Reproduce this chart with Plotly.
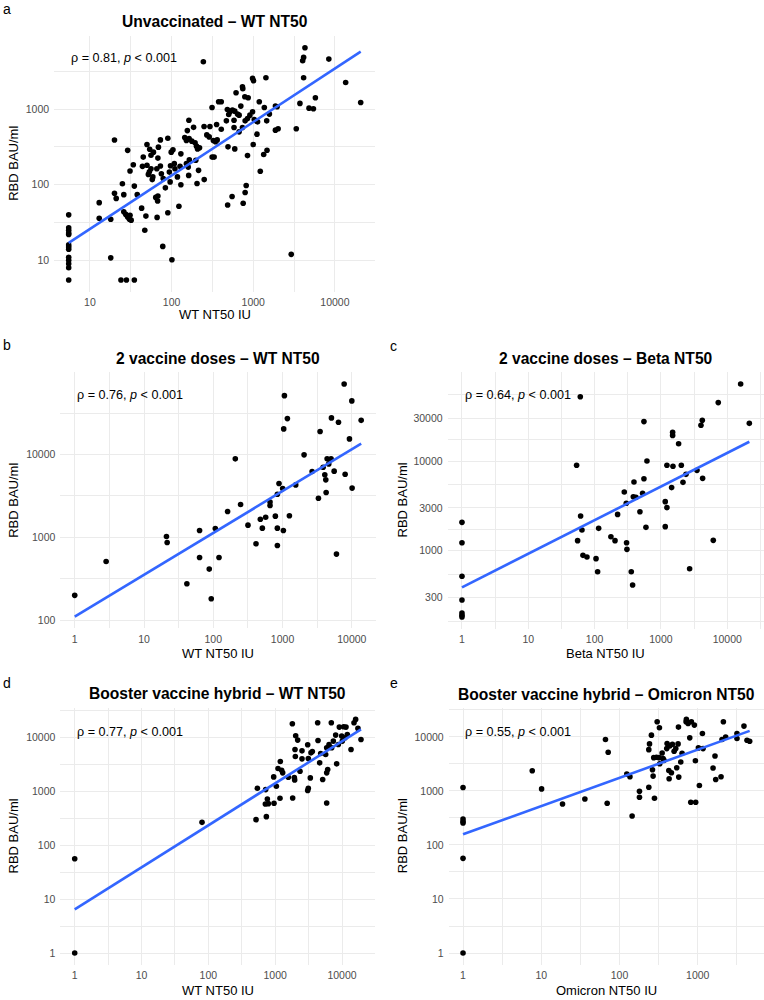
import numpy as np
import plotly.graph_objects as go

W, H = 764, 1000
FONT = "Liberation Sans, Arial, Helvetica, sans-serif"

# ---------------- data ----------------
# Panel a: Unvaccinated - WT NT50
a_x = [5.5] * 13 + [24, 28, 35,
       13, 13, 18, 18, 20, 20, 21, 25, 26,
       26, 27.5, 29, 30.5, 31, 32,
       29, 31, 34, 35, 38,
       43, 44, 45, 47, 48.5, 50, 50, 52, 53.5, 54, 56, 56, 58, 59, 60, 64, 66, 67.5, 68, 69,
       66.5, 68, 73, 73, 75, 78, 79, 84, 90, 90, 94, 96, 97, 99, 104, 101, 108, 110, 118, 123,
       127, 130, 130,
       145, 152, 164, 156, 163, 152, 160, 165, 162, 186, 177, 194, 202, 208, 220, 214, 205,
       251, 245, 250, 270, 295, 289, 313, 314, 332, 198,
       325, 345, 362,
       4300, 4140, 4030, 8430, 4140, 13550, 982, 1010, 1430, 738, 745, 616, 789, 867, 377,
       406, 1186, 705, 1367, 1870, 1960, 3730, 5770, 4820, 5460, 20700, 482, 520, 556, 594,
       641, 672, 501, 982, 910, 1577, 356, 469, 582, 796, 851, 1029, 1079, 1130, 1462, 406,
       582, 672, 738, 1110, 1870, 2018, 3365, 491, 594, 1000, 851, 1475, 1343, 1220, 820,
       796, 753, 551, 486, 2920]
a_y = [40, 27, 25, 23, 22, 16, 15, 14, 11, 10, 9, 8, 5.5] + [5.5, 5.5, 5.5,
       58, 36, 35, 10.8, 390, 77, 66, 103, 74,
       44, 40.5, 37.5, 35, 39.5, 34,
       285, 152, 184, 96, 74,
       49, 175, 232, 25, 38.5, 340, 181, 137, 148, 295, 246, 163, 117, 127, 270, 68, 163, 61, 225, 314,
       37, 71, 392, 177, 140, 15.3, 121, 91, 412, 42.7, 147, 109, 178, 270, 290, 10.2, 190, 163, 127, 52,
       175, 256, 100,
       420, 384, 409, 520, 714, 190, 171, 214, 133, 574, 377, 358, 324, 298, 308, 155, 104,
       117, 4230, 590, 456, 590, 429, 1052, 232, 232, 211,
       385, 370, 392,
       6490, 4830, 4370, 4590, 2600, 2250, 2550, 2370, 2600, 1980, 1860, 1645, 1456, 1412, 1250,
       1250, 1250, 1096, 1052, 1096, 1074, 1190, 1413, 1030, 1010, 1224, 991, 923, 970, 941,
       859, 832, 849, 923, 832, 859, 627, 700, 714, 700, 752, 730, 700, 679, 700, 543,
       571, 501, 571, 467, 527, 550, 550, 317, 298, 340, 243, 286, 251, 151, 97.5,
       79, 57, 70, 54, 12]

# Panel b: 2 vaccine doses - WT NT50
b_x = [1, 2.84, 21.1, 21.6, 41.6, 63.4, 63.4, 87.5, 93.5, 107, 121, 161, 208, 248, 317,
       414, 478, 511, 571, 660, 660, 788, 842, 842, 889, 842, 1005, 1028, 1064, 1040,
       1175, 1256, 1550, 2046, 2672, 3298, 3485, 3853, 4074, 4210, 4260, 4400, 4650, 5020,
       5080, 5560, 6000, 6420, 7750, 8010, 9250, 10000, 10100, 13650]
b_y = [199, 511, 1023, 866, 275, 1208, 571, 413, 181, 1278, 571, 2050, 8870, 2490, 1403,
       836, 1655, 1291, 1751, 2663, 2421, 1802, 1291, 797, 4468, 3319, 3890, 1208, 51500, 20400,
       27200, 1820, 4300, 9910, 6240, 2970, 18970, 7030, 5690, 4950, 3480, 8870, 7710, 8870,
       27700, 6300, 627, 24550, 71300, 5790, 15460, 44500, 3930, 25900]

# Panel c: 2 vaccine doses - Beta NT50
c_x = [1, 1, 1, 1, 1, 1, 1, 53.5, 55.4, 60.8, 61.5, 64.4, 66.7, 76.6, 105, 111, 115, 176,
       203, 222, 280, 300, 303, 307, 357, 374, 383, 392, 420, 482, 529, 554, 554, 594, 615,
       1161, 1161, 1230, 1230, 1448, 1500, 1500, 1517, 1846, 2027, 2148, 2384, 2705, 3491,
       4010, 4200, 4250, 6150, 7310, 15900, 21500]
c_y = [2070, 1228, 518, 282, 202, 190, 182, 8960, 1294, 52100, 2440, 1700, 887, 850, 815,
       583, 1774, 1432, 1294, 2540, 4510, 3375, 1228, 1035, 583, 414, 4000, 5830, 3940, 2720,
       4360, 6350, 27500, 1820, 10000, 3520, 1853, 3020, 8960, 5050, 19300, 20900, 8730,
       15600, 8960, 5780, 7100, 630, 7870, 25000, 28400, 6410, 1304, 44800, 72300, 26300]

# Panel d: Booster vaccine hybrid - WT NT50
d_x = [1, 1, 80.4, 517, 541, 738, 721, 713, 764, 790, 961, 950, 1041, 1103, 1194, 1181,
       1250, 1295, 1575, 1807, 1828, 1935, 1958, 1981, 2004, 2028, 2172, 2354, 2520, 2520,
       3066, 3133, 3066, 3133, 3357, 3436, 3597, 4325, 4375, 4634, 4797, 5140, 5700, 5900,
       5900, 6110, 5900, 6400, 6920, 7010, 7420, 8040, 8320, 8810, 9120, 9890, 10120, 10600,
       11090, 11480, 12020, 13650, 15130, 16000, 17340, 19240]
d_y = [1, 56.5, 268, 301, 1153, 342, 1089, 589, 730, 597, 606, 1876, 1257, 2684, 3621, 752,
       2500, 2228, 1849, 18240, 762, 1823, 1650, 6060, 4490, 10900, 9050, 2390, 5720, 4060,
       1046, 1153, 7410, 4120, 1798, 5250, 5560, 19040, 8920, 3420, 5100, 1675, 4890, 6510,
       2230, 2570, 615, 7520, 19040, 6510, 8670, 11220, 3280, 7520, 15800, 10740, 8670, 16030,
       10000, 15800, 11530, 6060, 19040, 21980, 14930, 9310]

# Panel e: Booster vaccine hybrid - Omicron NT50
e_x = [1, 1, 1, 1, 1, 1, 7.67, 10.1, 18.7, 36.1, 66.2, 71.7, 69.6, 124, 136, 145, 180, 180,
       237, 237, 242, 256, 264, 269, 274, 280, 303, 297, 321, 324, 327, 351, 361, 371, 402,
       406, 427, 431, 439, 461, 475, 499, 524, 539, 561, 567, 572, 607, 631, 710, 716, 753,
       791, 815, 830, 906, 934, 942, 1020, 1050, 1148, 1170, 1570, 1663, 1698, 1986, 2045,
       2128, 2277, 3175, 3175, 3900, 4266, 4613]
e_y = [1, 56.5, 1153, 301, 272, 255, 2360, 1089, 573, 709, 8920, 5180, 589, 2046, 1823, 342,
       986, 762, 1170, 5800, 7410, 10740, 2460, 1876, 4120, 730, 19040, 4180, 4120, 14720,
       3186, 5030, 3950, 3670, 6060, 7520, 2390, 1675, 6790, 2160, 7300, 5410, 6060, 2684,
       7410, 15140, 1798, 3420, 4970, 19040, 21040, 17700, 9580, 615, 19040, 16480, 3620, 615,
       6240, 1257, 11530, 6060, 2643, 4430, 1627, 1823, 8920, 19040, 9860, 11530, 9310, 15800,
       8670, 8300]

# fitted (log-log linear) trend lines: y at the smallest and largest x
a_fit = [17.0, 5770]
b_fit = [110, 13580]
c_fit = [390, 16390]
d_fit = [6.5, 14300]
e_fit = [157, 12900]

titles = ["Unvaccinated \u2013 WT NT50", "2 vaccine doses \u2013 WT NT50",
          "2 vaccine doses \u2013 Beta NT50", "Booster vaccine hybrid \u2013 WT NT50",
          "Booster vaccine hybrid \u2013 Omicron NT50"]
xtitles = ["WT NT50 IU", "WT NT50 IU", "Beta NT50 IU", "WT NT50 IU", "Omicron NT50 IU"]
letters = ["a", "b", "c", "d", "e"]
rho_labels = ["0.81", "0.76", "0.64", "0.77", "0.55"]
x_ticks = [[10, 100, 1000, 10000], [1, 10, 100, 1000, 10000], [1, 10, 100, 1000, 10000],
           [1, 10, 100, 1000, 10000], [1, 10, 100, 1000]]
y_ticks = [[10, 100, 1000], [100, 1000, 10000], [300, 1000, 3000, 10000, 30000],
           [1, 10, 100, 1000, 10000], [1, 10, 100, 1000, 10000]]

# ---------------- layout geometry (pixels) ----------------
# panel boxes: left, right, top, bottom
boxes = [(54.1, 375.3, 36.1, 291.6),
         (60.4, 375.5, 372.3, 628.3),
         (447.6, 763.7, 372.3, 628.7),
         (60.4, 375.3, 707.7, 964.7),
         (448.7, 764.0, 707.7, 964.7)]
title_y = [21.7, 358.5, 358.0, 693.5, 694.5]
letter_pos = [(1, 9), (1, 345), (388, 346), (1, 683), (388, 683)]
rho_pos = [(69, 58), (74.7, 395), (462.7, 395), (74.7, 731.7), (463, 731.7)]
ytitle_x = [14, 13.5, 402, 13.3, 402]
xtitle_y = [315, 653, 653, 990, 990]


def fx(px):
    return px / W


def fy(py):
    return 1 - py / H


def minor_breaks(majors, lo, hi):
    b = list(np.log10(majors))
    bd = b[1] - b[0]
    if lo < b[0]:
        b = [b[0] - bd] + b
    if hi > b[-1]:
        b = b + [b[-1] + bd]
    mids = [(b[i] + b[i + 1]) / 2 for i in range(len(b) - 1)]
    return [10 ** m for m in mids if lo <= m <= hi]


data = [(a_x, a_y, a_fit), (b_x, b_y, b_fit), (c_x, c_y, c_fit),
        (d_x, d_y, d_fit), (e_x, e_y, e_fit)]

fig = go.Figure()
annotations = []
layout_axes = {}
GRID = "#EBEBEB"

for i, (xs, ys, fit) in enumerate(data):
    sfx = "" if i == 0 else str(i + 1)
    lx = np.log10(np.array(xs, dtype=float))
    ly = np.log10(np.array(ys, dtype=float))
    fit_x = [min(xs), max(xs)]
    lfit = np.log10(np.array(fit, dtype=float))

    x_lo, x_hi = lx.min(), lx.max()
    y_lo, y_hi = min(ly.min(), lfit.min()), max(ly.max(), lfit.max())
    xpad = 0.05 * (x_hi - x_lo)
    ypad = 0.05 * (y_hi - y_lo)
    xr = [x_lo - xpad, x_hi + xpad]
    yr = [y_lo - ypad, y_hi + ypad]

    fig.add_trace(go.Scatter(x=xs, y=ys, mode="markers",
                             marker=dict(color="black", size=5.6, line=dict(width=0)),
                             xaxis="x" + sfx, yaxis="y" + sfx, showlegend=False,
                             hoverinfo="skip", cliponaxis=False))
    fig.add_trace(go.Scatter(x=fit_x, y=fit, mode="lines",
                             line=dict(color="#3366FF", width=2.6),
                             xaxis="x" + sfx, yaxis="y" + sfx, showlegend=False,
                             hoverinfo="skip"))

    L, R, T, B = boxes[i]
    common = dict(type="log", showgrid=True, gridcolor=GRID, gridwidth=1.0,
                  zeroline=False, showline=False, ticks="",
                  tickfont=dict(family=FONT, size=10.5, color="#4D4D4D"),
                  tickmode="array", fixedrange=True)
    layout_axes["xaxis" + sfx] = dict(
        common, domain=[fx(L), fx(R)], range=xr, anchor="y" + sfx,
        tickvals=x_ticks[i], ticktext=[str(v) for v in x_ticks[i]],
        ticklabelstandoff=3,
        minor=dict(tickmode="array", tickvals=minor_breaks(x_ticks[i], xr[0], xr[1]),
                   showgrid=True, gridcolor=GRID, gridwidth=0.6, ticks=""))
    layout_axes["yaxis" + sfx] = dict(
        common, domain=[fy(B), fy(T)], range=yr, anchor="x" + sfx,
        tickvals=y_ticks[i], ticktext=[str(v) for v in y_ticks[i]],
        ticklabelstandoff=4,
        minor=dict(tickmode="array", tickvals=minor_breaks(y_ticks[i], yr[0], yr[1]),
                   showgrid=True, gridcolor=GRID, gridwidth=0.6, ticks=""))

    cx = (L + R) / 2
    cy = (T + B) / 2
    annotations += [
        dict(text="<b>" + titles[i] + "</b>", x=fx(cx), y=fy(title_y[i]), xref="paper",
             yref="paper", xanchor="center", yanchor="middle", showarrow=False,
             font=dict(family=FONT, size=15.6, color="black")),
        dict(text=letters[i], x=fx(letter_pos[i][0]), y=fy(letter_pos[i][1]), xref="paper",
             yref="paper", xanchor="left", yanchor="middle", showarrow=False,
             font=dict(family=FONT, size=14, color="black")),
        dict(text="\u03c1 = " + rho_labels[i] + ", <i>p</i> &lt; 0.001",
             x=fx(rho_pos[i][0]), y=fy(rho_pos[i][1]), xref="paper", yref="paper",
             xanchor="left", yanchor="middle", showarrow=False,
             font=dict(family=FONT, size=12.6, color="black")),
        dict(text="RBD BAU/ml", x=fx(ytitle_x[i]), y=fy(cy), xref="paper", yref="paper",
             xanchor="center", yanchor="middle", textangle=-90, showarrow=False,
             font=dict(family=FONT, size=13, color="black")),
        dict(text=xtitles[i], x=fx(cx), y=fy(xtitle_y[i]), xref="paper", yref="paper",
             xanchor="center", yanchor="middle", showarrow=False,
             font=dict(family=FONT, size=13, color="black")),
    ]

fig.update_layout(width=W, height=H, margin=dict(l=0, r=0, t=0, b=0),
                  paper_bgcolor="white", plot_bgcolor="white",
                  annotations=annotations, showlegend=False, **layout_axes)
fig.write_html("out.html", config={"displayModeBar": False},
               post_script="document.body.style.margin='0';"
                           "document.documentElement.style.margin='0';")
